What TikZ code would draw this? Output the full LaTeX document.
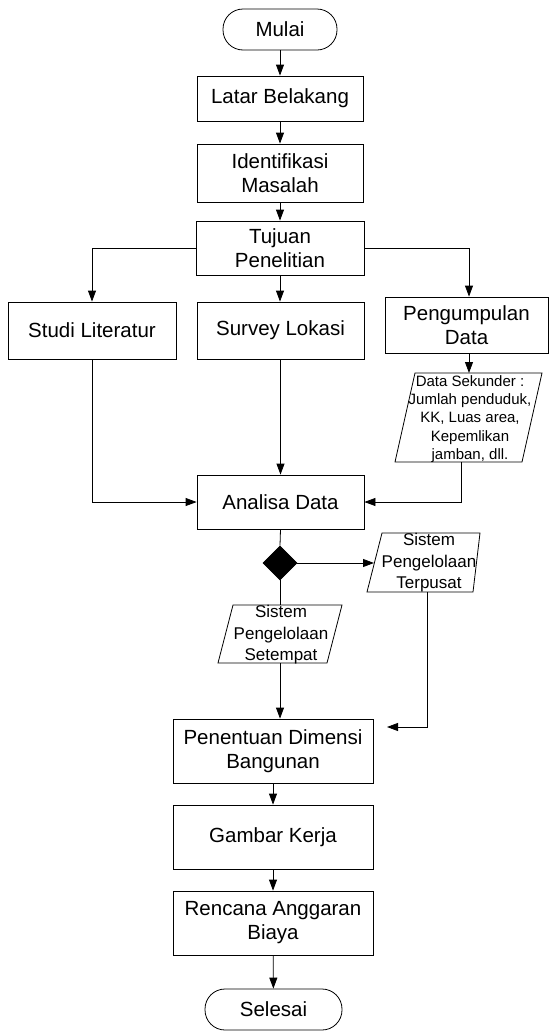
\documentclass[tikz,border=0pt]{standalone}
\usepackage{fontspec}
\setmainfont{Liberation Sans}
\usetikzlibrary{arrows.meta,shapes.geometric}
\begin{document}
\begin{tikzpicture}[x=1pt,y=-1pt,
  ln/.style={line width=0.8pt},
  arr/.style={ln,-{Triangle[length=11pt,width=8pt]}},
  box/.style={draw,ln,align=center,inner sep=0pt,font=\fontsize{20.5}{24}\selectfont},
  term/.style={box,rounded corners=20pt,minimum height=41pt},
  small/.style={align=center,inner sep=0pt,font=\fontsize{15}{18.3}\selectfont},
  mid/.style={align=center,inner sep=0pt,font=\fontsize{17}{21.5}\selectfont}]
\useasboundingbox (0,0) rectangle (549,1031);
% nodes
\node[term,minimum width=114pt] (mulai) at (280,29.5) {Mulai};
\node[box,minimum width=166pt,minimum height=45pt] (latar) at (280,98.5) {Latar Belakang};
\node[box,minimum width=166pt,minimum height=58pt] (ident) at (280,173) {Identifikasi\\Masalah};
\node[box,minimum width=168pt,minimum height=54pt] (tujuan) at (280,248) {Tujuan\\Penelitian};
\node[box,minimum width=168pt,minimum height=57pt] (studi) at (92,330.5) {Studi Literatur};
\node[box,minimum width=167pt,minimum height=57pt] (survey) at (280.5,330.5) {Survey Lokasi};
\node[box,minimum width=163pt,minimum height=56pt] (peng) at (466.5,325) {Pengumpulan\\Data};
% Data sekunder parallelogram
\draw[ln] (395,462) -- (415,373) -- (542,373) -- (522,462) -- cycle;
\coordinate (sektop) at (469,373);
\coordinate (sekbot) at (461,462);
\node[small] (sek) at (470,419) {Data Sekunder :\\Jumlah penduduk,\\KK, Luas area,\\Kepemlikan\\jamban, dll.};
\node[box,minimum width=167pt,minimum height=54pt] (analisa) at (280.5,502) {Analisa Data};
\node[diamond,fill=black,draw,ln,minimum width=34pt,minimum height=34pt,inner sep=0pt] (dec) at (280,563) {};
% Terpusat parallelogram
\draw[ln] (367,592) -- (382,533) -- (480,533) -- (473,592) -- cycle;
\coordinate (pusin) at (374,563);
\coordinate (pusbot) at (427,592);
\node[mid] (pus) at (429,563) {Sistem\\Pengelolaan\\Terpusat};
% Setempat parallelogram
\draw[ln] (218,663) -- (233,605) -- (342,605) -- (327,663) -- cycle;
\coordinate (settop) at (280,605);
\coordinate (setbot) at (280,663);
\node[mid] (set) at (281,635) {Sistem\\Pengelolaan\\Setempat};
\node[box,minimum width=200pt,minimum height=64pt] (penen) at (273,751) {Penentuan Dimensi\\Bangunan};
\node[box,minimum width=200pt,minimum height=64pt] (gambar) at (273,837) {Gambar Kerja};
\node[box,minimum width=200pt,minimum height=64pt] (rab) at (273,923) {Rencana Anggaran\\Biaya};
\node[term,minimum width=137pt] (selesai) at (273.5,1009.5) {Selesai};
\coordinate (pusend) at (387,727);
% connectors
\draw[arr] (mulai) -- (latar);
\draw[arr] (latar) -- (ident);
\draw[arr] (ident) -- (tujuan);
\draw[arr] (tujuan.west) -| (studi.north);
\draw[arr] (tujuan.south) -- (tujuan.south |- survey.north);
\draw[arr] (tujuan.east) -| (sektop |- peng.north);
\draw[arr] (sektop |- peng.south) -- (sektop);
\draw[arr] (studi.south) |- (analisa.west);
\draw[arr] (survey.south) -- (survey.south |- analisa.north);
\draw[arr] (sekbot) |- (analisa.east);
\draw[ln] (analisa.south) -- (dec.north);
\draw[arr] (dec.east) -- (pusin);
\draw[ln] (dec.south) -- (settop);
\draw[arr] (setbot) -- (setbot |- penen.north);
\draw[arr] (pusbot) |- (pusend);
\draw[arr] (penen) -- (gambar);
\draw[arr] (gambar) -- (rab);
\draw[arr] (rab) -- (selesai);
\end{tikzpicture}
\end{document}
